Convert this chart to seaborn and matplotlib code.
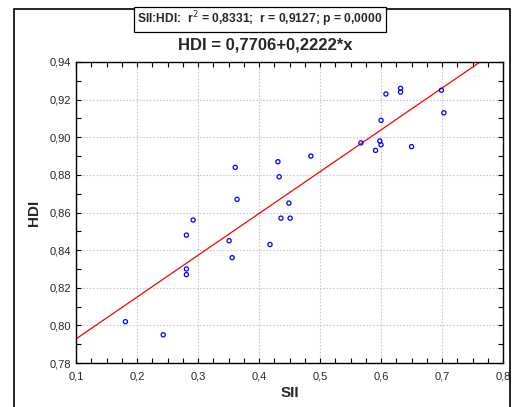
import matplotlib
matplotlib.use("Agg")
import matplotlib.pyplot as plt
import seaborn as sns
import numpy as np
import pandas as pd
from matplotlib.ticker import MultipleLocator, FuncFormatter
from matplotlib.patches import Rectangle

sii = [0.181, 0.243, 0.281, 0.281, 0.281, 0.292, 0.351, 0.356, 0.361, 0.364,
       0.418, 0.431, 0.433, 0.436, 0.449, 0.451, 0.485, 0.567, 0.591, 0.598,
       0.600, 0.600, 0.608, 0.632, 0.632, 0.650, 0.699, 0.703]
hdi = [0.802, 0.795, 0.827, 0.830, 0.848, 0.856, 0.845, 0.836, 0.884, 0.867,
       0.843, 0.887, 0.879, 0.857, 0.865, 0.857, 0.890, 0.897, 0.893, 0.898,
       0.896, 0.909, 0.923, 0.926, 0.924, 0.895, 0.925, 0.913]
intercept = 0.7706
slope = 0.2222
stats_text = "SII:HDI:  r$^2$ = 0,8331;  r = 0,9127; p = 0,0000"
eq_text = "HDI = 0,7706+0,2222*x"
x_ticks = [0.1, 0.2, 0.3, 0.4, 0.5, 0.6, 0.7, 0.8]
y_ticks = [0.78, 0.80, 0.82, 0.84, 0.86, 0.88, 0.90, 0.92, 0.94]

sns.set_style("white")
plt.rcParams['font.family'] = ['Liberation Sans', 'DejaVu Sans']

df = pd.DataFrame({"SII": sii, "HDI": hdi})

fig = plt.figure(figsize=(5.17, 4.07), dpi=100)
ax = fig.add_axes([0.147, 0.108, 0.826, 0.7397])

ax.grid(True, color="#c8c8c8", linestyle=(0, (1.5, 1.5)), linewidth=0.8)
ax.set_axisbelow(True)

xs = np.array([x_ticks[0], x_ticks[-1]])
ax.plot(xs, intercept + slope * xs, color="red", linewidth=0.9, zorder=2)

sns.scatterplot(data=df, x="SII", y="HDI", ax=ax, marker="o", s=9,
                facecolor="none", edgecolor="blue", linewidth=0.9, zorder=3)

ax.set_xlim(x_ticks[0], x_ticks[-1])
ax.set_ylim(y_ticks[0], y_ticks[-1])
ax.set_xticks(x_ticks)
ax.set_yticks(y_ticks)
ax.xaxis.set_minor_locator(MultipleLocator(0.025))
ax.yaxis.set_minor_locator(MultipleLocator(0.01))
fmt1 = FuncFormatter(lambda v, p: f"{v:.1f}".replace(".", ","))
fmt2 = FuncFormatter(lambda v, p: f"{v:.2f}".replace(".", ","))
ax.xaxis.set_major_formatter(fmt1)
ax.yaxis.set_major_formatter(fmt2)
ax.tick_params(which="both", direction="in", top=True, right=True,
               bottom=True, left=True, labelsize=8, color="black", width=0.8)
ax.tick_params(which="major", length=3.5)
ax.tick_params(which="minor", length=3.5)
ax.tick_params(axis="x", pad=6)
for sp in ax.spines.values():
    sp.set_color("black")
    sp.set_linewidth(1.0)

ax.set_xlabel("SII", fontsize=11, fontweight="bold", labelpad=3)
ax.set_ylabel("HDI", fontsize=11, fontweight="bold", labelpad=6)

fig.text(0.513, 1 - 45 / 407, eq_text, ha="center", va="center",
         fontsize=12, fontweight="bold")
fig.text(0.503, 1 - 19.5 / 407, stats_text, ha="center", va="center",
         fontsize=8.7, fontweight="bold",
         bbox=dict(boxstyle="square,pad=0.25", facecolor="white",
                   edgecolor="black", linewidth=0.9))

fig.patches.append(Rectangle((14 / 517, -0.02), (510 - 14) / 517, 1 - 9 / 407 + 0.02,
                             transform=fig.transFigure, fill=False,
                             edgecolor="black", linewidth=1.2))

fig.savefig("out.png", dpi=100)
